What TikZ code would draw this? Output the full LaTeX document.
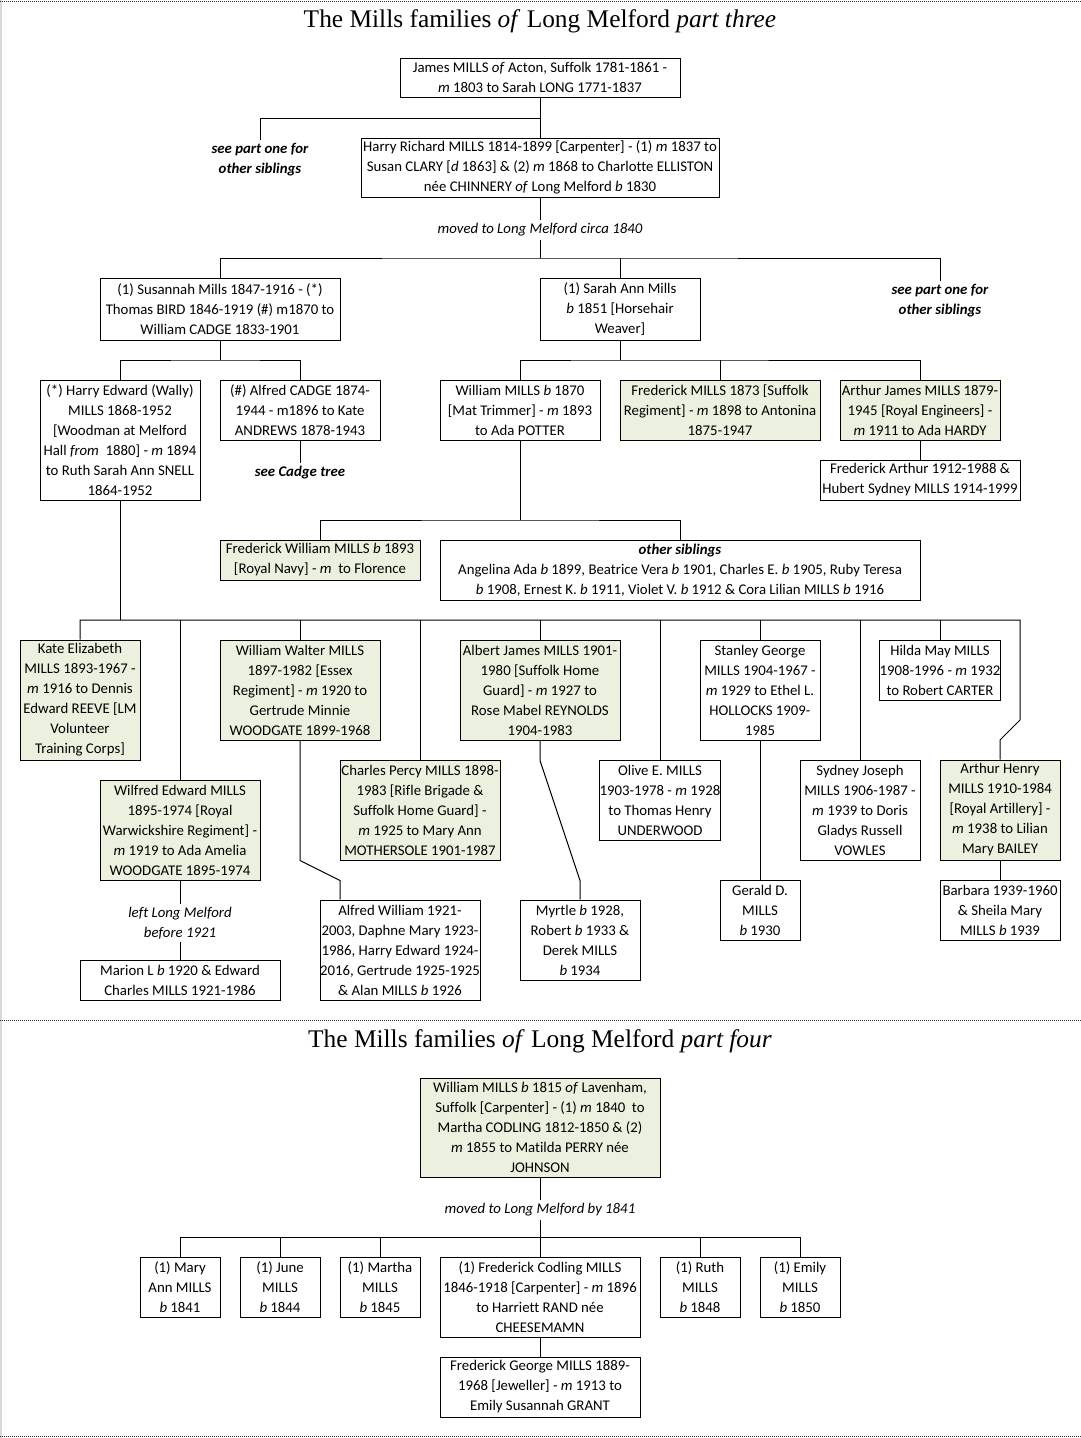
\documentclass[tikz,border=0pt]{standalone}
\usepackage{fontspec}
\setmainfont{Carlito}[Ligatures=NoCommon]
\newfontfamily\titlefont{Liberation Serif}
\definecolor{gfill}{RGB}{235,241,222}
\begin{document}
\begin{tikzpicture}[x=1pt,y=-1pt,
  box/.style={draw, line width=1pt, inner sep=0pt, align=center, font=\fontsize{14.8}{20}\selectfont, execute at begin node={\rule{0pt}{14.5pt}}},
  gbox/.style={box, fill=gfill},
  lbl/.style={inner sep=3pt, align=center, font=\fontsize{14.8}{20}\selectfont\itshape},
  blbl/.style={inner sep=3pt, align=center, font=\fontsize{14.8}{20}\selectfont\bfseries\itshape},
  ttl/.style={inner sep=0pt, font=\titlefont\fontsize{25.4}{30}\selectfont},
  conn/.style={line width=1pt},
  sep/.style={line width=1pt, dash pattern=on 1pt off 1pt, black!80}]
\useasboundingbox (0,0) rectangle (1081,1438);
\fill[white] (0,0) rectangle (1081,1438);
% frame
\draw[line width=2pt, black!15] (1,0) -- (1,1438);
\draw[sep] (0,1) -- (1081,1);
\draw[sep] (0,1020) -- (1081,1020);
\draw[sep] (0,1436.5) -- (1081,1436.5);

% ===== part three =====
\node[ttl] (t1) at (540,21) {The Mills families \textit{of} Long Melford \textit{part three}};

\node[box, minimum width=280, minimum height=39] (A) at (540,77.5) {James MILLS \textit{of} Acton, Suffolk 1781-1861 -\\\textit{m} 1803 to Sarah LONG 1771-1837};
\node[box, minimum width=358, minimum height=59] (B) at (540,167.5) {Harry Richard MILLS 1814-1899 [Carpenter] - (1) \textit{m} 1837 to\\Susan CLARY [\textit{d} 1863] \& (2) \textit{m} 1868 to Charlotte ELLISTON\\née CHINNERY \textit{of} Long Melford \textit{b} 1830};
\node[blbl] (see1) at (260,160) {see part one for\\other siblings};
\node[lbl] (moved1) at (540,230) {moved to Long Melford circa 1840};

\node[box, minimum width=240, minimum height=62] (C) at (220,309) {(1) Susannah Mills 1847-1916 - (*)\\Thomas BIRD 1846-1919 (\#) m1870 to\\William CADGE 1833-1901};
\node[box, minimum width=160, minimum height=62] (D) at (620,309) {(1) Sarah Ann Mills\\\textit{b} 1851 [Horsehair\\Weaver]};
\node[blbl] (see2) at (940,301) {see part one for\\other siblings};

\node[box, minimum width=160, minimum height=120] (E) at (120,440) {(*) Harry Edward (Wally)\\MILLS 1868-1952\\{[}Woodman at Melford\\Hall \textit{from}\ \ 1880] - \textit{m} 1894\\to Ruth Sarah Ann SNELL\\1864-1952};
\node[box, minimum width=160, minimum height=60] (F) at (300,410) {(\#) Alfred CADGE 1874-\\1944 - m1896 to Kate\\ANDREWS 1878-1943};
\node[blbl] (cadge) at (300,473) {see Cadge tree};

\node[box, minimum width=160, minimum height=60] (G) at (520,410) {William MILLS \textit{b} 1870\\{[}Mat Trimmer] - \textit{m} 1893\\to Ada POTTER};
\node[gbox, minimum width=200, minimum height=60] (H) at (720,410) {Frederick MILLS 1873 [Suffolk\\Regiment] - \textit{m} 1898 to Antonina\\1875-1947};
\node[gbox, minimum width=160, minimum height=60] (I) at (920,410) {Arthur James MILLS 1879-\\1945 [Royal Engineers] -\\\textit{m} 1911 to Ada HARDY};
\node[box, minimum width=200, minimum height=40] (J) at (920,480) {Frederick Arthur 1912-1988 \&\\Hubert Sydney MILLS 1914-1999};

\node[gbox, minimum width=200, minimum height=40] (K) at (320,560) {Frederick William MILLS \textit{b} 1893\\{[}Royal Navy] - \textit{m}\ \ to Florence};
\node[box, minimum width=480, minimum height=60] (L) at (680,570) {\textbf{\textit{other siblings}}\\Angelina Ada \textit{b} 1899, Beatrice Vera \textit{b} 1901, Charles E. \textit{b} 1905, Ruby Teresa\\\textit{b} 1908, Ernest K. \textit{b} 1911, Violet V. \textit{b} 1912 \& Cora Lilian MILLS \textit{b} 1916};

\node[gbox, minimum width=120, minimum height=120] (M) at (80,700) {Kate Elizabeth\\MILLS 1893-1967 -\\\textit{m} 1916 to Dennis\\Edward REEVE [LM\\Volunteer\\Training Corps]};
\node[gbox, minimum width=160, minimum height=100] (N) at (180,830) {Wilfred Edward MILLS\\1895-1974 [Royal\\Warwickshire Regiment] -\\\textit{m} 1919 to Ada Amelia\\WOODGATE 1895-1974};
\node[gbox, minimum width=160, minimum height=100] (O) at (300,690) {William Walter MILLS\\1897-1982 [Essex\\Regiment] - \textit{m} 1920 to\\Gertrude Minnie\\WOODGATE 1899-1968};
\node[gbox, minimum width=160, minimum height=100] (P) at (420,810) {Charles Percy MILLS 1898-\\1983 [Rifle Brigade \&\\Suffolk Home Guard] -\\\textit{m} 1925 to Mary Ann\\MOTHERSOLE 1901-1987};
\node[gbox, minimum width=160, minimum height=100] (Q) at (540,690) {Albert James MILLS 1901-\\1980 [Suffolk Home\\Guard] - \textit{m} 1927 to\\Rose Mabel REYNOLDS\\1904-1983};
\node[box, minimum width=120, minimum height=80] (R) at (660,800) {Olive E. MILLS\\1903-1978 - \textit{m} 1928\\to Thomas Henry\\UNDERWOOD};
\node[box, minimum width=120, minimum height=100] (S) at (760,690) {Stanley George\\MILLS 1904-1967 -\\\textit{m} 1929 to Ethel L.\\HOLLOCKS 1909-\\1985};
\node[box, minimum width=120, minimum height=100] (T) at (860,810) {Sydney Joseph\\MILLS 1906-1987 -\\\textit{m} 1939 to Doris\\Gladys Russell\\VOWLES};
\node[box, minimum width=120, minimum height=60] (U) at (940,670) {Hilda May MILLS\\1908-1996 - \textit{m} 1932\\to Robert CARTER};
\node[gbox, minimum width=120, minimum height=100] (V) at (1000,810) {Arthur Henry\\MILLS 1910-1984\\{[}Royal Artillery] -\\\textit{m} 1938 to Lilian\\Mary BAILEY};

\node[lbl] (left) at (180,923) {left Long Melford\\before 1921};
\node[box, minimum width=200, minimum height=40] (W) at (180,980) {Marion L \textit{b} 1920 \& Edward\\Charles MILLS 1921-1986};
\node[box, minimum width=160, minimum height=100] (X) at (400,950) {Alfred William 1921-\\2003, Daphne Mary 1923-\\1986, Harry Edward 1924-\\2016, Gertrude 1925-1925\\\& Alan MILLS \textit{b} 1926};
\node[box, minimum width=120, minimum height=80] (Y) at (580,940) {Myrtle \textit{b} 1928,\\Robert \textit{b} 1933 \&\\Derek MILLS\\\textit{b} 1934};
\node[box, minimum width=80, minimum height=60] (Z) at (760,910) {Gerald D.\\MILLS\\\textit{b} 1930};
\node[box, minimum width=120, minimum height=60] (AA) at (1000,910) {Barbara 1939-1960\\\& Sheila Mary\\MILLS \textit{b} 1939};

% connectors part three
\coordinate (j0) at (540,118);
\draw[conn] (A.south) -- (A.south |- B.north);
\draw[conn] (j0) -| (see1.north);
\draw[conn] (B.south) -- (moved1.north);
\coordinate (j1) at (540,258);
\draw[conn] (moved1.south) -- (j1);
\draw[conn] (C.north) |- (j1) -| (see2.north);
\draw[conn] (D.north) -- (D.north |- j1);

\coordinate (j2) at (220,360);
\draw[conn] (C.south) -- (j2);
\draw[conn] (E.north) |- (j2) -| (F.north);
\draw[conn] (F.south) -- (cadge.north);

\coordinate (j3) at (620,360);
\draw[conn] (D.south) -- (j3);
\draw[conn] (G.north) |- (j3) -| (I.north);
\draw[conn] (H.north) -- (H.north |- j3);
\draw[conn] (I.south) -- (J.north);

\coordinate (j4) at (520,520);
\draw[conn] (G.south) -- (j4);
\draw[conn] (K.north) |- (j4) -| (L.north);

\coordinate (j5) at (120,620);
\coordinate (jr) at (1020,620);
\coordinate (kv1) at (1020,720);
\coordinate (kv2) at (1000,740);
\draw[conn] (E.south) -- (j5);
\draw[conn] (M.north) |- (j5) -- (jr) -- (kv1) -- (kv2) -- (V.north);
\foreach \n in {N,O,P,Q,R,S,T,U} \draw[conn] (\n.north) -- (\n.north |- j5);

\draw[conn] (N.south) -- (left.north);
\draw[conn] (left.south) -- (W.north);
\draw[conn] (O.south) -- ++(0,120) -- ++(40,20) -- ([xshift=-60pt]X.north);
\draw[conn] (Q.south) -- ++(0,20) -- ++(40,120) -- (Y.north);
\draw[conn] (S.south) -- (Z.north);
\draw[conn] (V.south) -- (AA.north);

% ===== part four =====
\node[ttl] (t2) at (540,1041) {The Mills families \textit{of} Long Melford \textit{part four}};
\node[gbox, minimum width=240, minimum height=99] (BB) at (540,1127.5) {William MILLS \textit{b} 1815 \textit{of} Lavenham,\\Suffolk [Carpenter] - (1) \textit{m} 1840\ \ to\\Martha CODLING 1812-1850 \& (2)\\\textit{m} 1855 to Matilda PERRY née\\JOHNSON};
\node[lbl] (moved2) at (540,1210) {moved to Long Melford by 1841};

\node[box, minimum width=80, minimum height=60] (c1) at (180,1287) {(1) Mary\\Ann MILLS\\\textit{b} 1841};
\node[box, minimum width=80, minimum height=60] (c2) at (280,1287) {(1) June\\MILLS\\\textit{b} 1844};
\node[box, minimum width=80, minimum height=60] (c3) at (380,1287) {(1) Martha\\MILLS\\\textit{b} 1845};
\node[box, minimum width=200, minimum height=80] (c4) at (540,1297) {(1) Frederick Codling MILLS\\1846-1918 [Carpenter] - \textit{m} 1896\\to Harriett RAND née\\CHEESEMAMN};
\node[box, minimum width=80, minimum height=60] (c5) at (700,1287) {(1) Ruth\\MILLS\\\textit{b} 1848};
\node[box, minimum width=80, minimum height=60] (c6) at (800,1287) {(1) Emily\\MILLS\\\textit{b} 1850};
\node[box, minimum width=200, minimum height=60] (FG) at (540,1387) {Frederick George MILLS 1889-\\1968 [Jeweller] - \textit{m} 1913 to\\Emily Susannah GRANT};

\draw[conn] (BB.south) -- (moved2.north);
\coordinate (j6) at (540,1237);
\draw[conn] (moved2.south) -- (j6);
\draw[conn] (c1.north) |- (j6) -| (c6.north);
\foreach \n in {c2,c3,c4,c5} \draw[conn] (\n.north) -- (\n.north |- j6);
\draw[conn] (c4.south) -- (FG.north);
\end{tikzpicture}
\end{document}
